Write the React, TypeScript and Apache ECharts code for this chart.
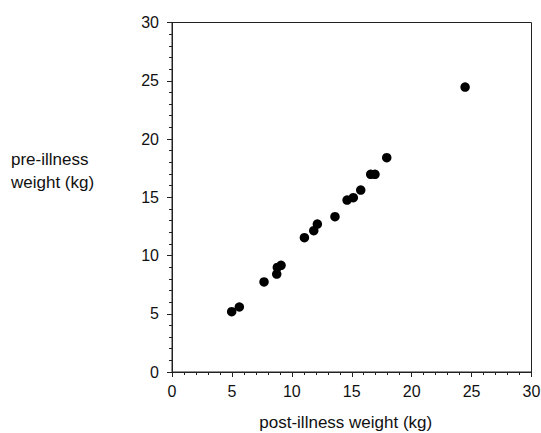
import React, { useEffect, useRef } from "react";
import * as echarts from "echarts";

const postIllness = [4.98, 5.62, 7.68, 8.74, 8.79, 9.1, 11.05, 11.83, 12.13, 13.6, 14.61, 15.13, 15.75, 16.58, 16.94, 17.92, 24.46];
const preIllness = [5.18, 5.58, 7.73, 8.41, 8.98, 9.16, 11.53, 12.13, 12.7, 13.33, 14.76, 14.96, 15.62, 16.97, 16.97, 18.4, 24.46];

const xName = "post-illness weight (kg)";
const yName = "pre-illness\nweight (kg)";

export default function App() {
  const ref = useRef<HTMLDivElement>(null);
  useEffect(() => {
    document.body.style.margin = "0";
    const chart = echarts.init(ref.current!, undefined, { renderer: "svg" });
    const font = "'Liberation Sans', Arial, sans-serif";
    const axisCommon = {
      min: 0,
      max: 30,
      interval: 5,
      splitLine: { show: false },
      axisLine: { show: true, lineStyle: { color: "#222", width: 1 } },
      axisTick: { show: true, length: 5, lineStyle: { color: "#222" } },
      minorTick: { show: true, splitNumber: 5, length: 3, lineStyle: { color: "#222" } },
    };
    chart.setOption({
      animation: false,
      backgroundColor: "#fff",
      grid: {
        left: 172,
        top: 22.5,
        right: 9.5,
        bottom: 61,
        show: true,
        borderColor: "#222",
        borderWidth: 1,
        backgroundColor: "transparent",
        containLabel: false,
        outerBoundsMode: "none",
      },
      xAxis: {
        type: "value",
        ...axisCommon,
        axisLabel: { margin: 11, fontSize: 16, color: "#111", fontFamily: font },
        name: xName,
        nameLocation: "middle",
        nameGap: 42,
        nameTextStyle: { fontSize: 17, color: "#111", fontFamily: font, padding: [0, 12, 0, 0] },
      },
      yAxis: {
        type: "value",
        ...axisCommon,
        axisLabel: { margin: 13, fontSize: 16, color: "#111", fontFamily: font },
      },
      graphic: [
        {
          type: "text",
          left: 11,
          top: 148,
          style: {
            text: yName,
            fontSize: 17,
            lineHeight: 23,
            fill: "#111",
            fontFamily: font,
          },
        },
      ],
      series: [
        {
          type: "scatter",
          symbol: "circle",
          symbolSize: 9.5,
          itemStyle: { color: "#000", opacity: 1 },
          data: postIllness.map((x, i) => [x, preIllness[i]]),
        },
      ],
    });
    return () => chart.dispose();
  }, []);
  return <div ref={ref} style={{ width: 541, height: 433, position: "absolute", left: 0, top: 0 }} />;
}
